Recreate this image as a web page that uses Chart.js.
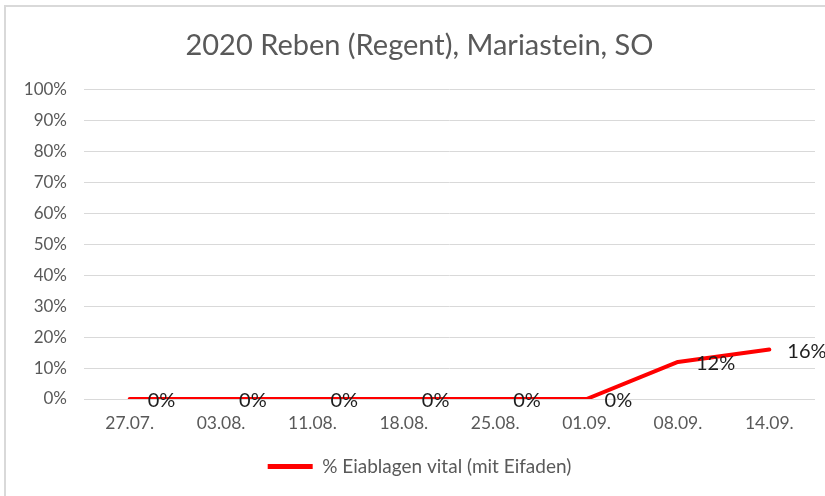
<!DOCTYPE html>
<html>
<head>
<meta charset="utf-8">
<script src="https://cdn.jsdelivr.net/npm/chart.js@4.4.1/dist/chart.umd.min.js"></script>
<style>
  html, body { margin: 0; padding: 0; background: #ffffff; }
  #wrap { position: relative; width: 825px; height: 496px; overflow: hidden; background: #fff; }
  #frame { position: absolute; left: 4px; top: 5px; width: 840px; height: 520px;
           border-top: 2px solid #d9d9d9; border-left: 2px solid #d9d9d9; box-sizing: border-box; }
  canvas { position: absolute; left: 0; top: 0; }
</style>
</head>
<body>
<div id="wrap">
  <div id="frame"></div>
  <canvas id="c" width="825" height="496"></canvas>
</div>
<script>
const titleText = '2020 Reben (Regent), Mariastein, SO';
const seriesName = '% Eiablagen vital (mit Eifaden)';
const categories = ['27.07.', '03.08.', '11.08.', '18.08.', '25.08.', '01.09.', '08.09.', '14.09.'];
const values = [0, 0, 0, 0, 0, 0, 12, 16];
const yTickValues = [0, 10, 20, 30, 40, 50, 60, 70, 80, 90, 100];

const FONT = 'Lato, "Open Sans", sans-serif';
const GREY = '#595959';

const dataLabels = {
  id: 'dataLabels',
  afterDatasetsDraw(chart) {
    const ctx = chart.ctx;
    const meta = chart.getDatasetMeta(0);
    ctx.save();
    ctx.font = '20px ' + FONT;
    ctx.fillStyle = '#1e1e1e';
    ctx.textAlign = 'left';
    ctx.textBaseline = 'middle';
    meta.data.forEach((pt, i) => {
      ctx.fillText(values[i] + '%', pt.x + 18, pt.y + 2);
    });
    ctx.restore();
  }
};

new Chart(document.getElementById('c'), {
  type: 'line',
  data: {
    labels: categories,
    datasets: [{
      label: seriesName,
      data: values,
      borderColor: '#ff0000',
      backgroundColor: '#ff0000',
      borderWidth: 4,
      pointRadius: 0,
      tension: 0,
      borderCapStyle: 'round',
      borderJoinStyle: 'round'
    }]
  },
  options: {
    responsive: false,
    animation: false,
    devicePixelRatio: 1,
    layout: { padding: { left: 14, right: 0, top: 0, bottom: 10 } },
    plugins: {
      title: {
        display: true,
        text: titleText,
        color: GREY,
        font: { family: FONT, size: 29, weight: 'normal' },
        padding: { top: 28, bottom: 27 }
      },
      legend: {
        position: 'bottom',
        labels: {
          color: GREY,
          font: { family: FONT, size: 19 },
          boxWidth: 45,
          boxHeight: 5,
          padding: 10,
          generateLabels() {
            return [{ text: seriesName, fillStyle: '#ff0000', strokeStyle: '#ff0000', lineWidth: 0, fontColor: GREY, datasetIndex: 0 }];
          }
        }
      },
      tooltip: { enabled: false }
    },
    scales: {
      x: {
        offset: true,
        grid: { display: false, drawTicks: false },
        border: { display: false },
        ticks: { color: GREY, font: { family: FONT, size: 17.5 }, padding: 14, maxRotation: 0, autoSkip: false },
        afterFit(scale) { scale.height = 48; }
      },
      y: {
        min: 0,
        max: 100,
        afterBuildTicks(scale) { scale.ticks = yTickValues.map(v => ({ value: v })); },
        grid: { color: '#d9d9d9', lineWidth: 1, drawTicks: false },
        border: { display: false },
        ticks: { color: GREY, font: { family: FONT, size: 17 }, padding: 17, callback: v => v + '%' },
        afterFit(scale) { scale.width = 70; }
      },
      yRight: {
        position: 'right',
        display: true,
        min: 0,
        max: 100,
        grid: { display: false, drawTicks: false },
        border: { display: false },
        ticks: { display: false },
        afterFit(scale) { scale.width = 10; }
      }
    }
  },
  plugins: [dataLabels]
});
</script>
</body>
</html>
